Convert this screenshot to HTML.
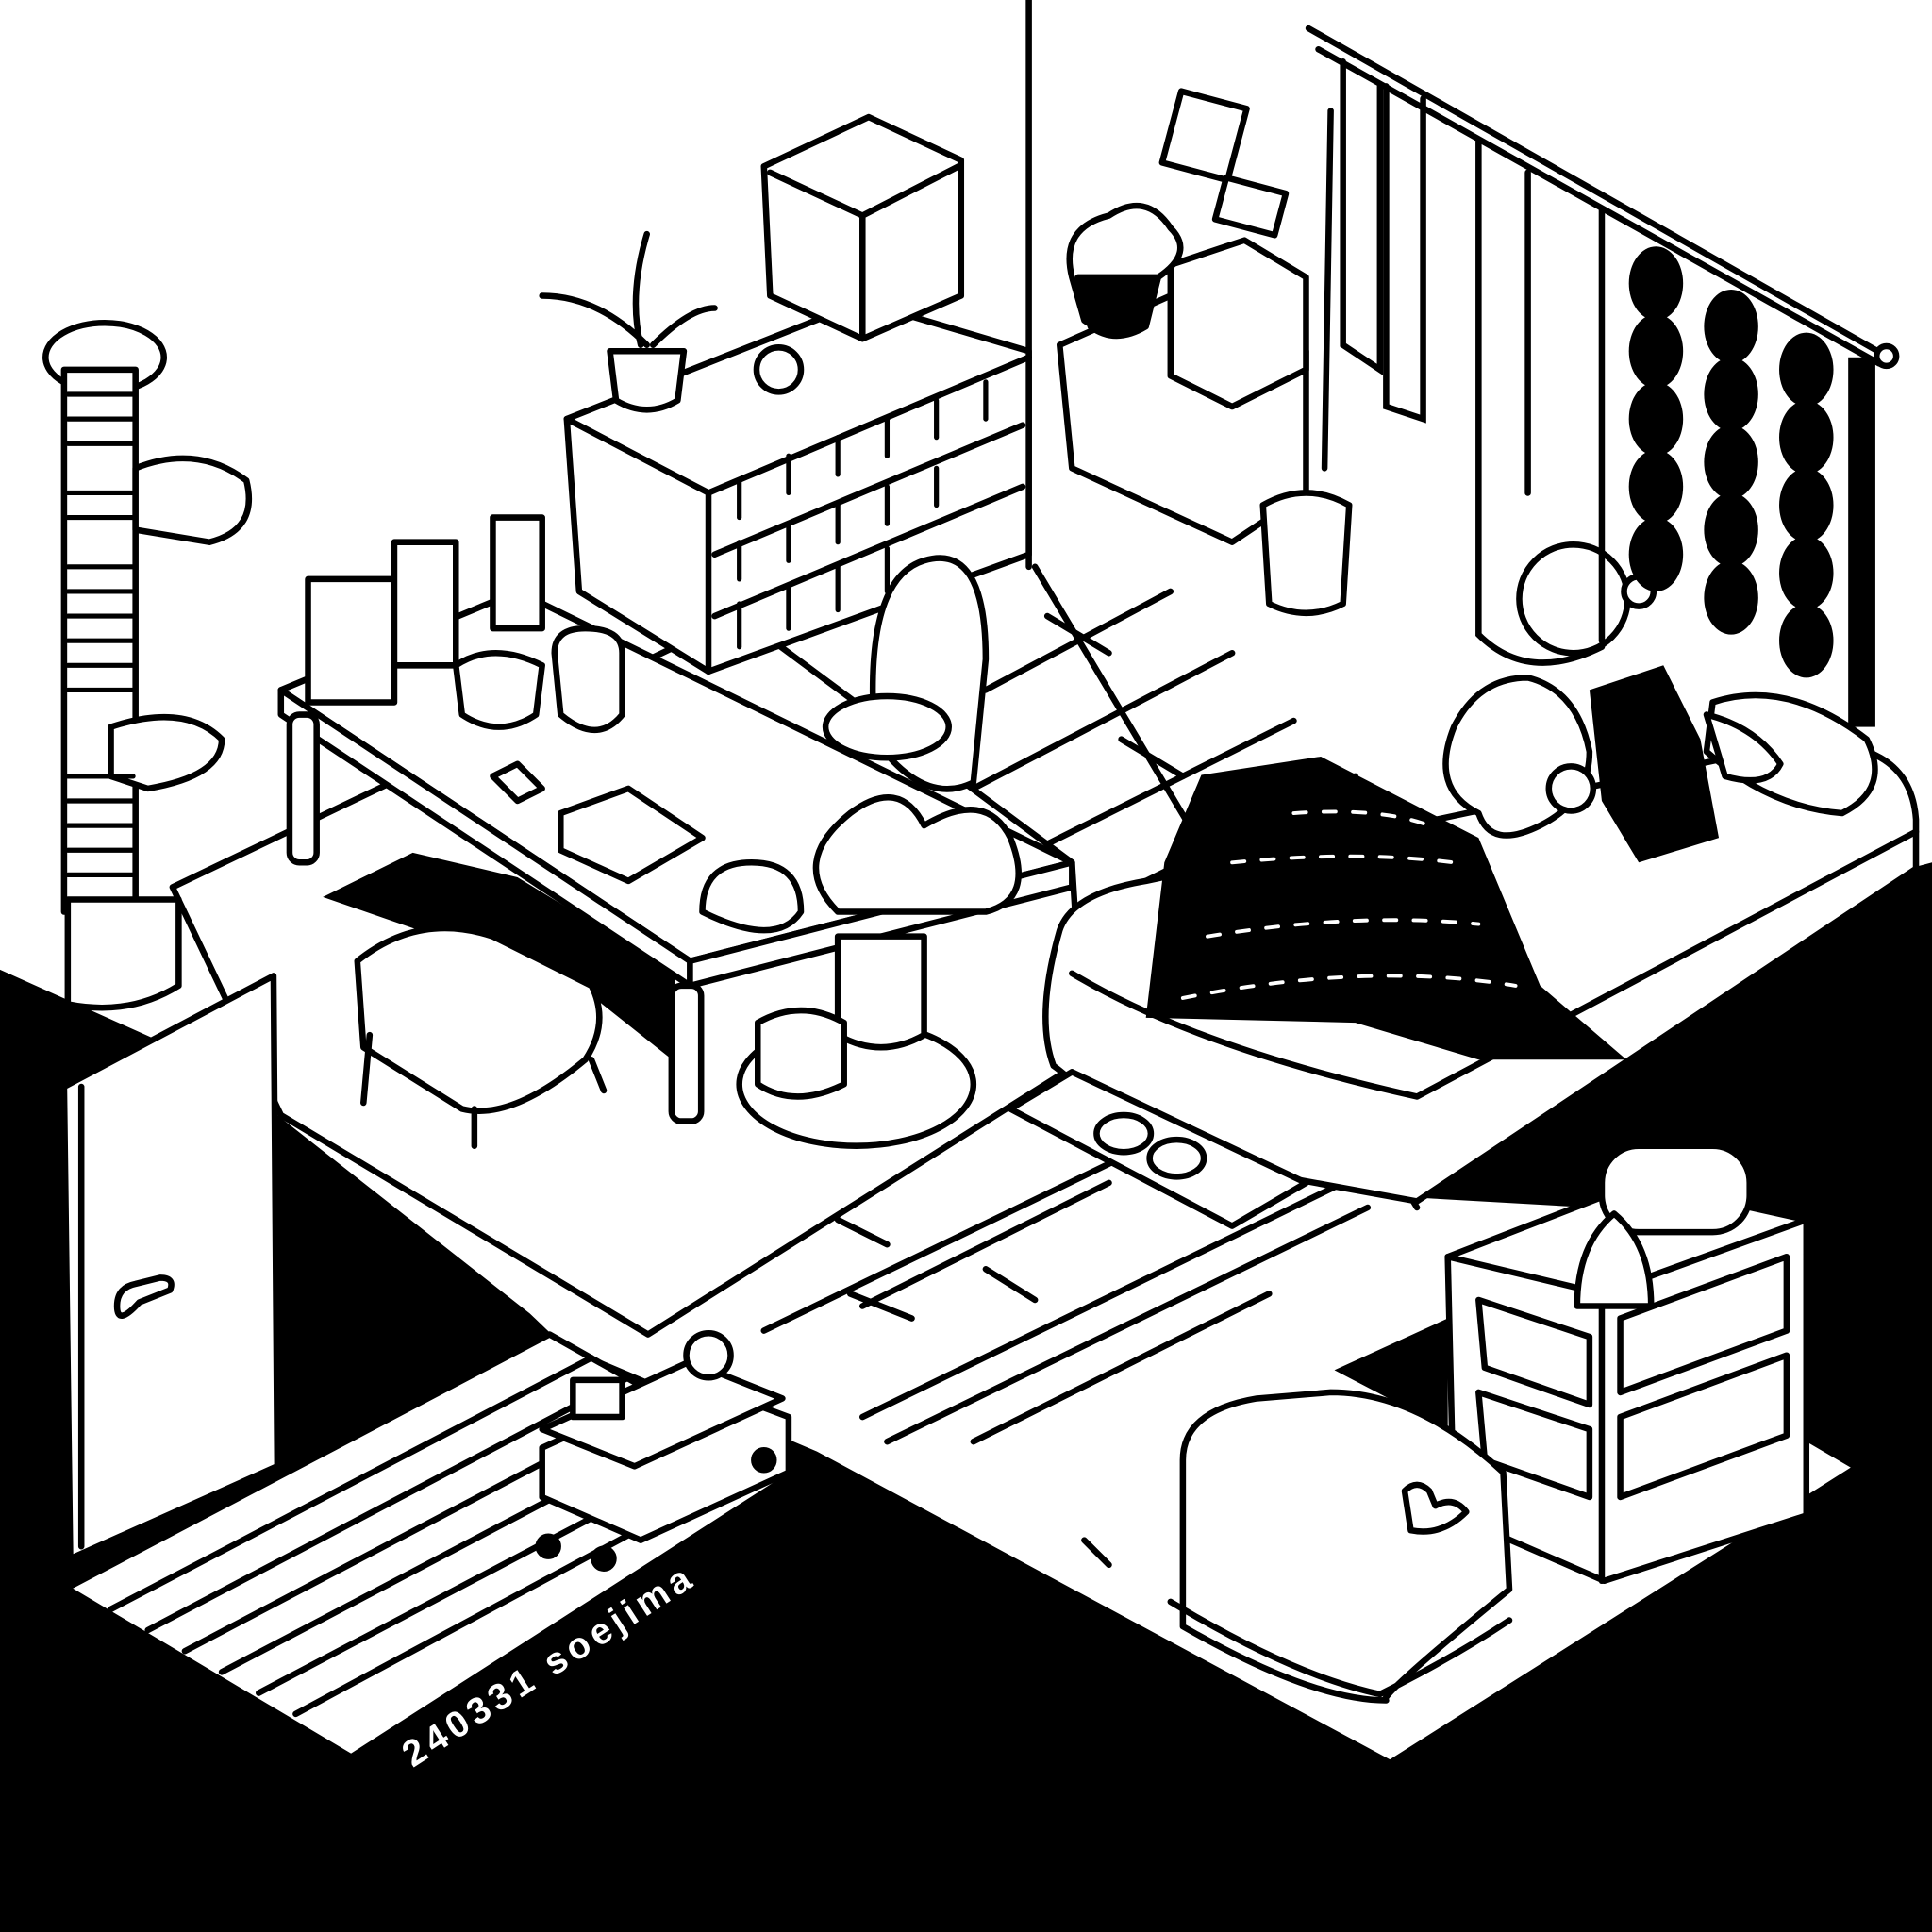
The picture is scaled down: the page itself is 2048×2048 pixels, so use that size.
<!DOCTYPE html>
<html><head><meta charset="utf-8"><style>html,body{margin:0;padding:0;background:#fff}svg{display:block}</style></head>
<body>
<svg width="2048" height="2048" viewBox="0 0 1568 1568" xmlns="http://www.w3.org/2000/svg">
<rect width="1568" height="1568" fill="#fff"/>
<g stroke="#000" stroke-width="5" stroke-linecap="round" stroke-linejoin="round" fill="none">
<!-- wall corner -->
<line x1="835" y1="0" x2="835" y2="460"/>
<!-- floor boards -->
<line x1="840" y1="460" x2="1150" y2="980"/>
<line x1="800" y1="560" x2="950" y2="480"/>
<line x1="790" y1="640" x2="1000" y2="530"/>
<line x1="820" y1="700" x2="1050" y2="585"/>
<line x1="900" y1="730" x2="1100" y2="630"/>
<line x1="850" y1="500" x2="900" y2="530"/>
<line x1="910" y1="600" x2="960" y2="630"/>
<line x1="620" y1="1080" x2="930" y2="930"/>
<line x1="680" y1="990" x2="720" y2="1010"/>
<line x1="700" y1="1060" x2="900" y2="960"/>
<line x1="690" y1="1050" x2="740" y2="1070"/>
<line x1="790" y1="1170" x2="1030" y2="1050"/>
<line x1="800" y1="1030" x2="840" y2="1055"/>
<line x1="700" y1="1150" x2="1090" y2="960"/>
<line x1="720" y1="1170" x2="1110" y2="980"/>
<line x1="880" y1="1250" x2="900" y2="1270"/>
<!-- rug -->
<polygon points="140,720 600,500 870,700 880,860 526,1083 228,905" fill="#fff"/>
</g>
<!-- big black -->
<polygon fill="#000" points="0,787 134,847 52,882 222,792 225,905 430,1066 455,1090 663,1178 1128,1428 1502,1191 1466,1170 1466,990 1149,972 1553,704 1568,700 1568,1568 0,1568"/>
<!-- black under table -->
<polygon fill="#000" points="262,728 335,692 420,712 548,790 548,862 470,800"/>
<polygon fill="#000" points="1083,1112 1175,1070 1175,1160"/>
<g stroke="#000" stroke-width="5" stroke-linecap="round" stroke-linejoin="round" fill="#fff">
<!-- door -->
<polygon points="52,882 222,792 225,1190 57,1265"/>
<polyline points="66,882 66,1255" fill="none"/>
<path d="M95,1060 q0,-15 15,-18 l20,-5 q12,0 8,10 l-25,10 q-18,20 -18,3z"/>
<!-- striped rug -->
<polygon points="54,1289 446,1083 645,1195 285,1426"/>
</g>
<g stroke="#000" stroke-width="5" stroke-linecap="round" fill="none">
<line x1="90" y1="1306" x2="480" y2="1102"/>
<line x1="120" y1="1323" x2="510" y2="1118"/>
<line x1="150" y1="1340" x2="540" y2="1135"/>
<line x1="180" y1="1357" x2="570" y2="1152"/>
<line x1="210" y1="1374" x2="600" y2="1169"/>
<line x1="240" y1="1391" x2="625" y2="1184"/>
</g>
<g stroke="#000" stroke-width="5" stroke-linecap="round" stroke-linejoin="round" fill="#fff">
<!-- cart -->
<polygon points="440,1175 560,1120 640,1150 640,1195 520,1250 440,1215"/>
<polygon points="440,1160 560,1105 635,1135 515,1190"/>
<rect x="465" y="1120" width="40" height="30"/>
<circle cx="575" cy="1100" r="18"/>
<circle cx="445" cy="1255" r="8" fill="#000"/><circle cx="490" cy="1265" r="8" fill="#000"/><circle cx="620" cy="1185" r="8" fill="#000"/>
<!-- cabinet bottom right -->
<polygon points="1175,1020 1330,960 1466,990 1466,1230 1302,1283 1180,1230"/>
<polyline points="1300,1050 1300,1283" fill="none"/>
<polyline points="1175,1020 1300,1050 1466,990" fill="none"/>
<polygon points="1200,1055 1290,1085 1290,1140 1205,1110"/>
<polygon points="1200,1130 1290,1160 1290,1215 1205,1185"/>
<polygon points="1315,1070 1450,1020 1450,1080 1315,1130"/>
<polygon points="1315,1150 1450,1100 1450,1165 1315,1215"/>
<rect x="1300" y="930" width="120" height="70" rx="30"/>
<path d="M1280,1060 q0,-50 30,-75 q30,25 30,75z"/>
<!-- hamper -->
<path d="M960,1185 q0,-40 60,-50 l60,-5 q70,0 140,65 l5,95 q-110,90 -100,90 q-60,0 -165,-60z"/>
<path d="M950,1300 q100,60 170,75 q60,-30 105,-60" fill="none"/>
<path d="M1140,1210 q10,-10 20,0 l5,12 q15,-8 25,5 q-20,20 -45,15z"/>
<!-- bed -->
<path d="M860,755 q10,-30 70,-40 l520,-110 q100,-10 105,60 l0,40 l-405,270 l-220,-40 q-60,-60 -75,-70 q-15,-40 5,-110z"/>
<path d="M870,790 q100,60 280,100 l405,-215" fill="none"/>
<!-- pillow -->
<path d="M1390,570 q60,-20 125,30 q20,40 -20,60 q-60,-5 -110,-50z"/>
</g>
<!-- blanket -->
<polygon fill="#000" points="975,629 1072,614 1200,680 1250,800 1320,860 1200,860 1100,830 930,826 945,700"/>
<g stroke="#fff" stroke-width="3" stroke-linecap="round" stroke-dasharray="10 14" fill="none">
<path d="M960,810 q150,-30 270,-10"/>
<path d="M980,760 q120,-20 220,-10"/>
<path d="M1000,700 q100,-10 180,0"/>
<path d="M1050,660 q70,-5 110,10"/>
</g>
<!-- person -->
<polygon fill="#000" points="1290,560 1350,540 1380,600 1395,680 1330,700 1300,650"/>
<g stroke="#000" stroke-width="5" stroke-linecap="round" stroke-linejoin="round" fill="#fff">
<circle cx="1277" cy="486" r="44"/>
<circle cx="1330" cy="480" r="12"/>
<path d="M1180,590 q20,-40 60,-40 q40,10 50,60 q0,40 -40,60 q-40,20 -50,-10 q-40,-20 -20,-70z"/>
<circle cx="1275" cy="640" r="18"/>
<path d="M1385,580 q40,10 60,40 q-10,20 -45,10z"/>
</g>
<!-- curtain -->
<g stroke="#000" stroke-width="5" stroke-linecap="round" fill="none">
<line x1="1062" y1="23" x2="1531" y2="289"/>
<line x1="1070" y1="40" x2="1525" y2="295"/>
<circle cx="1531" cy="289" r="8" fill="#fff"/>
<path d="M1200,115 l0,400 q40,40 100,10"/>
<path d="M1300,170 l0,350"/>
<path d="M1240,140 l0,260"/>
<path d="M1090,50 l0,230 l30,20 l0,-230"/>
<path d="M1125,70 l0,260 l30,10 l0,-260"/>
<line x1="1080" y1="90" x2="1075" y2="380"/>
</g>
<g fill="#000">
<ellipse cx="1344" cy="230" rx="22" ry="30"/><ellipse cx="1344" cy="285" rx="22" ry="30"/><ellipse cx="1344" cy="340" rx="22" ry="30"/><ellipse cx="1344" cy="395" rx="22" ry="30"/><ellipse cx="1344" cy="450" rx="22" ry="30"/>
<ellipse cx="1405" cy="265" rx="22" ry="30"/><ellipse cx="1405" cy="320" rx="22" ry="30"/><ellipse cx="1405" cy="375" rx="22" ry="30"/><ellipse cx="1405" cy="430" rx="22" ry="30"/><ellipse cx="1405" cy="485" rx="22" ry="30"/>
<ellipse cx="1466" cy="300" rx="22" ry="30"/><ellipse cx="1466" cy="355" rx="22" ry="30"/><ellipse cx="1466" cy="410" rx="22" ry="30"/><ellipse cx="1466" cy="465" rx="22" ry="30"/><ellipse cx="1466" cy="520" rx="22" ry="30"/>
<rect x="1500" y="290" width="22" height="300"/>
</g>
<g stroke="#000" stroke-width="5" stroke-linecap="round" stroke-linejoin="round" fill="#fff">
<!-- side cabinet & trash -->
<polygon points="860,280 950,240 1060,285 1060,400 1000,440 870,380"/>
<polygon points="950,215 1010,195 1060,225 1060,300 1000,330 950,305"/>
<rect x="950" y="80" width="55" height="60" transform="rotate(15 977 110)"/>
<rect x="990" y="150" width="50" height="35" transform="rotate(15 1015 167)"/>
<path d="M1025,410 q35,-20 70,0 l-5,80 q-30,15 -60,0z"/>
<path d="M870,225 q-10,-40 30,-50 q30,-20 50,10 q20,20 -10,40 l-10,35 q-30,15 -50,0z"/>
<path d="M875,225 l10,40 q20,15 45,0 l10,-40z" fill="#000"/>
<!-- bookshelf -->
<polygon points="460,340 700,245 835,285 835,450 575,545 470,480"/>
<polyline points="460,340 575,400 835,290" fill="none"/>
<line x1="575" y1="400" x2="575" y2="545"/>
<line x1="580" y1="450" x2="830" y2="345"/>
<line x1="580" y1="500" x2="830" y2="395"/>
<polygon points="620,135 705,95 780,130 780,240 700,275 625,240"/>
<polyline points="625,140 700,175 778,135" fill="none"/><line x1="700" y1="175" x2="700" y2="272"/>
<path d="M495,285 l5,40 q25,15 50,0 l5,-40z"/>
<path d="M520,280 q-10,-40 5,-90 M525,280 q-40,-40 -85,-40 M530,280 q30,-30 50,-30"/>
<circle cx="632" cy="300" r="18"/>
<!-- table -->
<polygon points="228,560 420,480 870,700 560,780"/>
<polygon points="228,560 560,780 560,800 228,580"/>
<polygon points="560,780 870,700 870,720 560,800"/>
<rect x="235" y="580" width="22" height="120" rx="8"/>
<rect x="545" y="800" width="24" height="110" rx="8"/>
<rect x="250" y="470" width="70" height="100"/>
<rect x="320" y="440" width="50" height="100"/>
<path d="M450,530 q0,-20 25,-20 q30,0 30,20 l0,50 q-20,25 -50,0z"/>
<path d="M370,540 q30,-20 70,0 l-5,40 q-30,20 -60,0z"/>
<rect x="400" y="420" width="40" height="90"/>
<polygon points="455,660 510,640 570,680 510,715 455,690"/>
<polygon points="400,630 420,620 440,640 420,650"/>
<!-- chairs -->
<path d="M290,780 q50,-40 110,-20 l80,40 q15,30 -5,60 q-60,50 -100,40 l-80,-50z"/>
<line x1="300" y1="840" x2="295" y2="895"/><line x1="385" y1="900" x2="385" y2="930"/><line x1="480" y1="860" x2="490" y2="885"/>
<path d="M710,600 q-10,-130 40,-145 q50,-15 50,80 l-10,100 q-40,20 -80,-35z"/>
<ellipse cx="720" cy="590" rx="50" ry="25"/>
<!-- plants -->
<ellipse cx="695" cy="880" rx="95" ry="50"/>
<path d="M680,740 q-40,-40 10,-80 q40,-30 60,10 q50,-30 70,10 q20,50 -20,60 z"/>
<path d="M570,740 q0,-40 40,-40 q40,0 40,40 q-20,30 -80,0z"/>
<path d="M680,760 l0,80 q35,20 70,0 l0,-80z"/>
<path d="M615,830 l0,50 q30,20 70,0 l0,-50 q-35,-20 -70,0z"/>
<!-- slipper mat -->
<polygon points="820,900 870,870 1060,960 1000,995"/>
<ellipse cx="912" cy="920" rx="22" ry="15"/><ellipse cx="955" cy="940" rx="22" ry="15"/>
<!-- cat tree -->
<ellipse cx="85" cy="290" rx="48" ry="28"/>
<rect x="52" y="300" width="58" height="440"/>
<path d="M110,380 q50,-20 90,10 q10,40 -30,50 l-60,-10z"/>
<path d="M90,590 q60,-20 90,10 q0,30 -60,40 l-30,-10z"/>
<path d="M55,730 l90,0 l0,70 q-40,25 -90,15z"/>
</g>
<g stroke="#000" stroke-width="4" stroke-linecap="round" fill="none">
<line x1="55" y1="320" x2="108" y2="320"/><line x1="55" y1="340" x2="108" y2="340"/><line x1="55" y1="360" x2="108" y2="360"/><line x1="55" y1="400" x2="108" y2="400"/><line x1="55" y1="420" x2="108" y2="420"/><line x1="55" y1="460" x2="108" y2="460"/><line x1="55" y1="480" x2="108" y2="480"/><line x1="55" y1="500" x2="108" y2="500"/><line x1="55" y1="520" x2="108" y2="520"/><line x1="55" y1="540" x2="108" y2="540"/><line x1="55" y1="560" x2="108" y2="560"/><line x1="55" y1="630" x2="108" y2="630"/><line x1="55" y1="650" x2="108" y2="650"/><line x1="55" y1="670" x2="108" y2="670"/><line x1="55" y1="690" x2="108" y2="690"/><line x1="55" y1="710" x2="108" y2="710"/>
<line x1="600" y1="420" x2="600" y2="390"/><line x1="640" y1="400" x2="640" y2="370"/><line x1="680" y1="385" x2="680" y2="355"/><line x1="720" y1="370" x2="720" y2="340"/><line x1="760" y1="355" x2="760" y2="325"/><line x1="800" y1="340" x2="800" y2="310"/>
<line x1="600" y1="470" x2="600" y2="440"/><line x1="640" y1="455" x2="640" y2="425"/><line x1="680" y1="440" x2="680" y2="410"/><line x1="720" y1="425" x2="720" y2="395"/><line x1="760" y1="410" x2="760" y2="380"/>
<line x1="600" y1="525" x2="600" y2="490"/><line x1="640" y1="510" x2="640" y2="475"/><line x1="680" y1="495" x2="680" y2="460"/><line x1="720" y1="480" x2="720" y2="445"/>
</g>
<text x="0" y="0" transform="translate(335,1435) rotate(-33)" fill="#fff" font-family="Liberation Sans, sans-serif" font-size="30" font-weight="bold" letter-spacing="4">240331 soejima</text>
</svg>
</body></html>
